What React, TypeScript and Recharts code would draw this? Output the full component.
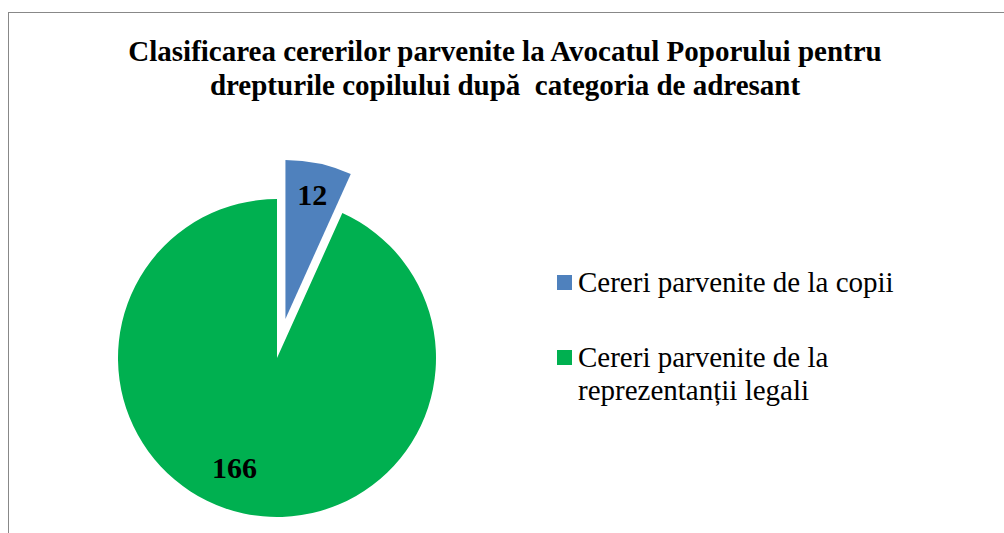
import { PieChart, Pie, Cell, Legend } from 'recharts'

const categories = ['Cereri parvenite de la copii', 'Cereri parvenite de la reprezentanții legali']
const legendLines = [['Cereri parvenite de la copii'], ['Cereri parvenite de la', 'reprezentanții legali']]
const values = [12, 166]
const colors = ['#4f81bd', '#00b050']
const titleLines = [
  'Clasificarea cererilor parvenite la Avocatul Poporului pentru',
  'drepturile copilului după  categoria de adresant',
]

const data = categories.map((name, i) => ({ name, value: values[i] }))

const CX = 277
const CY = 358
const R = 159
const EXPLODE = 40
const SERIF = "'Liberation Serif', serif"

// direction of the exploded slice (first slice, clockwise from 12 o'clock)
const total = values.reduce((a, b) => a + b, 0)
const midDeg = 90 - (values[0] / total) * 180
const offX = EXPLODE * Math.cos((midDeg * Math.PI) / 180)
const offY = -EXPLODE * Math.sin((midDeg * Math.PI) / 180)

const RAD = Math.PI / 180

function makeLabel(index: number, frac: number, shift: number) {
  return (props: any) => {
    if (props.index !== index) return null
    const a = (props.midAngle + shift) * RAD
    const r = props.outerRadius * frac
    const x = props.cx + r * Math.cos(a)
    const y = props.cy - r * Math.sin(a)
    return (
      <text x={x} y={y} textAnchor="middle" dominantBaseline="central" fill="#000" fontFamily={SERIF} fontWeight={700} fontSize={30}>
        {values[index]}
      </text>
    )
  }
}

function LegendBox() {
  const tops = [0, 75]
  return (
    <svg width={440} height={150} style={{ display: 'block' }}>
      {legendLines.map((lines, i) => (
        <g key={i}>
          <rect x={1} y={tops[i] + 10} width={15} height={15} fill={colors[i]} />
          {lines.map((l, j) => (
            <text key={j} x={22} y={tops[i] + 27 + j * 33} fontFamily={SERIF} fontSize={29} fill="#000">
              {l}
            </text>
          ))}
        </g>
      ))}
    </svg>
  )
}

export default function App() {
  return (
    <div style={{ position: 'fixed', left: 0, top: 0, width: 1004, height: 533, background: '#fff', overflow: 'hidden' }}>
      <div style={{ position: 'absolute', left: 8, top: 12, width: 1000, height: 530, borderLeft: '1px solid #888', borderTop: '1px solid #888' }} />
      <svg width={1004} height={110} style={{ position: 'absolute', left: 0, top: 0 }}>
        {titleLines.map((t, i) => (
          <text key={i} x={505} y={61 + i * 34} textAnchor="middle" fontFamily={SERIF} fontWeight={700} fontSize={29} fill="#000" style={{ whiteSpace: 'pre' }}>
            {t}
          </text>
        ))}
      </svg>
      <div style={{ position: 'absolute', left: 0, top: 0 }}>
        <PieChart width={1004} height={533} margin={{ top: 0, right: 0, bottom: 0, left: 0 }}>
          <Pie
            data={data}
            dataKey="value"
            cx={CX}
            cy={CY}
            outerRadius={R}
            startAngle={90}
            endAngle={-270}
            stroke="none"
            isAnimationActive={false}
            label={makeLabel(1, 0.74, -9)}
            labelLine={false}
          >
            {data.map((d, i) => (
              <Cell key={d.name} fill={i === 0 ? 'transparent' : colors[i]} />
            ))}
          </Pie>
          <Pie
            data={data}
            dataKey="value"
            cx={CX + offX}
            cy={CY + offY}
            outerRadius={R}
            startAngle={90}
            endAngle={-270}
            stroke="none"
            isAnimationActive={false}
            label={makeLabel(0, 0.8, 0)}
            labelLine={false}
          >
            {data.map((d, i) => (
              <Cell key={d.name} fill={i === 0 ? colors[i] : 'transparent'} />
            ))}
          </Pie>
          <Legend
            content={<LegendBox />}
            wrapperStyle={{ position: 'absolute', left: 556, top: 265, width: 440 }}
          />
        </PieChart>
      </div>
    </div>
  )
}
